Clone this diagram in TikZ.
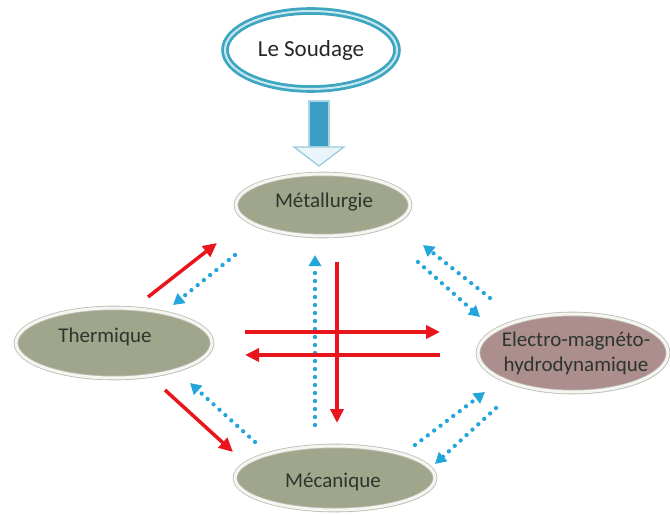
\documentclass[tikz,border=0pt]{standalone}
\usepackage{fontspec}
\setmainfont{Carlito}
\usetikzlibrary{shapes.geometric,arrows.meta,shadows}
\definecolor{redar}{HTML}{E8161C}
\definecolor{bluear}{HTML}{22A6DC}
\definecolor{olivefill}{HTML}{A0A68B}
\definecolor{mauvefill}{HTML}{AC8E8E}
\definecolor{rimgray}{HTML}{BDBDB4}
\definecolor{rimlight}{HTML}{F5F5F1}
\definecolor{txt}{HTML}{2C352C}
\definecolor{tealline}{HTML}{3EA6C0}
\definecolor{teallight}{HTML}{C9E8F0}
\definecolor{shaftteal}{HTML}{3B9EC2}
\definecolor{shaftedge}{HTML}{A9D5E5}
\definecolor{headfill}{HTML}{EAF5F9}
\definecolor{headline}{HTML}{9BCBDD}
\begin{document}
\begin{tikzpicture}[x=1bp,y=-1bp,
  oval/.style={ellipse, inner sep=0pt, draw=rimgray, line width=0.8bp,
    double=rimlight, double distance=3bp, fill=olivefill, text=txt,
    font=\fontsize{21bp}{25bp}\selectfont,
    drop shadow={shadow xshift=1.5bp, shadow yshift=-2bp, fill=black!30, opacity=0.5}},
  redarrow/.style={draw=redar, line width=3.5bp, -{Triangle[length=14bp,width=13bp]}},
  bluearrow/.style={draw=bluear, line width=4.3bp, line cap=round,
    dash pattern=on 0pt off 8bp, -{Triangle[length=11bp,width=12bp]}},
  txtstyle/.style={text=txt, font=\fontsize{21bp}{25bp}\selectfont},
]
\useasboundingbox (0,0) rectangle (670,515);

% top node
\node[ellipse, inner sep=0pt, minimum width=172bp, minimum height=78bp,
      draw=tealline, line width=2.8bp, double=teallight, double distance=2bp,
      fill=white, text=black!85, font=\fontsize{23bp}{27bp}\selectfont]
      (soud) at (311,50) {Le Soudage};

% thick arrow
\fill[shaftteal, draw=shaftedge, line width=1.2bp] (309,101) rectangle (329,147);
\draw[draw=headline, fill=headfill, line width=1.3bp, line join=miter]
  (294,147) -- (344,147) -- (319,166) -- cycle;

% nodes
\node[oval, minimum width=174bp, minimum height=62bp] (met) at (323,205) {};
\node[txtstyle] (mettxt) at (324,202) {Métallurgie};
\node[oval, minimum width=196bp, minimum height=70bp] (th) at (114,343) {};
\node[txtstyle] (thtxt) at (105,337) {Thermique};
\node[oval, minimum width=200bp, minimum height=64bp] (mec) at (335,478) {};
\node[txtstyle] (mectxt) at (333,482) {Mécanique};
\node[oval, fill=mauvefill, minimum width=190bp, minimum height=78bp] (el) at (573,353) {};
\node[txtstyle, align=center] (eltxt) at (576,353)
  {Electro-magnéto-\\hydrodynamique};

% coordinates for connector ends
\coordinate (a1) at (148,297); \coordinate (a2) at (217,243);
\coordinate (b1) at (235,255); \coordinate (b2) at (173,305);
\coordinate (c1) at (315,425); \coordinate (c2) at (315,255);
\coordinate (d1) at (337,262); \coordinate (d2) at (337,423);
\coordinate (e1) at (245,332); \coordinate (e2) at (440,332);
\coordinate (f1) at (440,355); \coordinate (f2) at (245,355);
\coordinate (g1) at (490,298); \coordinate (g2) at (423,245);
\coordinate (h1) at (418,262); \coordinate (h2) at (480,317);
\coordinate (i1) at (165,390); \coordinate (i2) at (233,452);
\coordinate (j1) at (255,442); \coordinate (j2) at (190,383);
\coordinate (k1) at (415,445); \coordinate (k2) at (485,392);
\coordinate (l1) at (496,408); \coordinate (l2) at (435,464);

% connectors
\draw[redarrow] (a1) -- (a2);
\draw[bluearrow] (b1) -- (b2);
\draw[bluearrow] (c1) -- (c2);
\draw[redarrow] (d1) -- (d2);
\draw[redarrow] (e1) -- (e2);
\draw[redarrow] (f1) -- (f2);
\draw[bluearrow] (g1) -- (g2);
\draw[bluearrow] (h1) -- (h2);
\draw[redarrow] (i1) -- (i2);
\draw[bluearrow] (j1) -- (j2);
\draw[bluearrow] (k1) -- (k2);
\draw[bluearrow] (l1) -- (l2);
\end{tikzpicture}
\end{document}
